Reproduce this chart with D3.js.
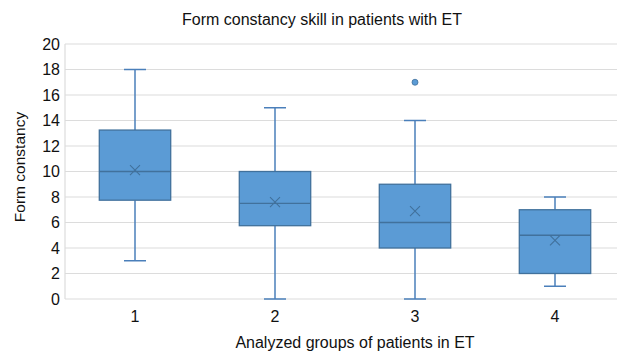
<!DOCTYPE html>
<html>
<head>
<meta charset="utf-8">
<script src="https://cdn.jsdelivr.net/npm/d3@7"></script>
<style>
  body { margin: 0; background: #fff; }
  text { font-family: "Liberation Sans", Arial, sans-serif; fill: #111; }
</style>
</head>
<body>
<div id="chart"></div>
<script>
// --- Data ---
const groups = ["1", "2", "3", "4"];
const mins = [3, 0, 0, 1];
const q1s = [7.75, 5.75, 4, 2];
const medians = [10, 7.5, 6, 5];
const q3s = [13.25, 10, 9, 7];
const maxs = [18, 15, 14, 8];
const means = [10.1, 7.6, 6.9, 4.6];
const outliers = [[], [], [17], []];
const yTicks = [0, 2, 4, 6, 8, 10, 12, 14, 16, 18, 20];

const data = groups.map((g, i) => ({
  group: g, min: mins[i], q1: q1s[i], median: medians[i], q3: q3s[i],
  max: maxs[i], mean: means[i], outliers: outliers[i]
}));

// --- Dimensions ---
const width = 617, height = 352;
const margin = { top: 44, right: -8, bottom: 53, left: 65 }; // plot runs past the right edge

const svg = d3.select("#chart").append("svg")
  .attr("width", width)
  .attr("height", height);

const x = d3.scaleBand()
  .domain(groups)
  .range([margin.left, width - margin.right])
  .paddingInner(0)
  .paddingOuter(0);

const y = d3.scaleLinear()
  .domain([0, 20])
  .range([height - margin.bottom, margin.top]);

const boxW = x.bandwidth() * 0.51;
const capW = 22;
const fill = "#5b9bd5";
const stroke = "#4a7fba";

// --- Gridlines ---
svg.append("g")
  .selectAll("line")
  .data(yTicks)
  .join("line")
  .attr("x1", margin.left)
  .attr("x2", width)
  .attr("y1", d => y(d))
  .attr("y2", d => y(d))
  .attr("stroke", "#dcdcdc")
  .attr("stroke-width", 1.2);

// y axis line
svg.append("line")
  .attr("x1", margin.left).attr("x2", margin.left)
  .attr("y1", y(20)).attr("y2", y(0))
  .attr("stroke", "#dcdcdc")
  .attr("stroke-width", 1.2);

// --- Y tick labels ---
svg.append("g")
  .selectAll("text")
  .data(yTicks)
  .join("text")
  .attr("x", margin.left - 5)
  .attr("y", d => y(d))
  .attr("dy", "0.35em")
  .attr("text-anchor", "end")
  .attr("font-size", 16)
  .text(d => d);

// --- Boxes ---
const boxG = svg.append("g")
  .selectAll("g")
  .data(data)
  .join("g")
  .attr("transform", d => `translate(${x(d.group) + x.bandwidth() / 2},0)`);

// whiskers
boxG.append("line")
  .attr("x1", 0).attr("x2", 0)
  .attr("y1", d => y(d.max)).attr("y2", d => y(d.q3))
  .attr("stroke", stroke).attr("stroke-width", 1.5);
boxG.append("line")
  .attr("x1", 0).attr("x2", 0)
  .attr("y1", d => y(d.q1)).attr("y2", d => y(d.min))
  .attr("stroke", stroke).attr("stroke-width", 1.5);
boxG.append("line")
  .attr("x1", -capW / 2).attr("x2", capW / 2)
  .attr("y1", d => y(d.max)).attr("y2", d => y(d.max))
  .attr("stroke", stroke).attr("stroke-width", 1.5);
boxG.append("line")
  .attr("x1", -capW / 2).attr("x2", capW / 2)
  .attr("y1", d => y(d.min)).attr("y2", d => y(d.min))
  .attr("stroke", stroke).attr("stroke-width", 1.5);

// box
boxG.append("rect")
  .attr("x", -boxW / 2)
  .attr("width", boxW)
  .attr("y", d => y(d.q3))
  .attr("height", d => y(d.q1) - y(d.q3))
  .attr("fill", fill)
  .attr("stroke", "#41719c")
  .attr("stroke-width", 1.3);

// median
boxG.append("line")
  .attr("x1", -boxW / 2).attr("x2", boxW / 2)
  .attr("y1", d => y(d.median)).attr("y2", d => y(d.median))
  .attr("stroke", "#41719c").attr("stroke-width", 1.3);

// mean marker
const m = 5;
boxG.append("path")
  .attr("d", d => `M${-m},${y(d.mean) - m}L${m},${y(d.mean) + m}M${-m},${y(d.mean) + m}L${m},${y(d.mean) - m}`)
  .attr("stroke", "#41719c").attr("stroke-width", 1.1)
  .attr("fill", "none");

// outliers
boxG.selectAll("circle")
  .data(d => d.outliers)
  .join("circle")
  .attr("cx", 0)
  .attr("cy", d => y(d))
  .attr("r", 3)
  .attr("fill", fill)
  .attr("stroke", "#41719c")
  .attr("stroke-width", 0.8);

// --- X tick labels ---
svg.append("g")
  .selectAll("text")
  .data(groups)
  .join("text")
  .attr("x", d => x(d) + x.bandwidth() / 2)
  .attr("y", y(0) + 23)
  .attr("text-anchor", "middle")
  .attr("font-size", 16)
  .text(d => d);

// --- Titles ---
svg.append("text")
  .attr("x", 322)
  .attr("y", 25)
  .attr("text-anchor", "middle")
  .attr("font-size", 16)
  .text("Form constancy skill in patients with ET");

svg.append("text")
  .attr("x", 355)
  .attr("y", 348)
  .attr("text-anchor", "middle")
  .attr("font-size", 16)
  .text("Analyzed groups of patients in ET");

svg.append("text")
  .attr("transform", `translate(25,167) rotate(-90)`)
  .attr("text-anchor", "middle")
  .attr("font-size", 15.5)
  .text("Form constancy");
</script>
</body>
</html>
